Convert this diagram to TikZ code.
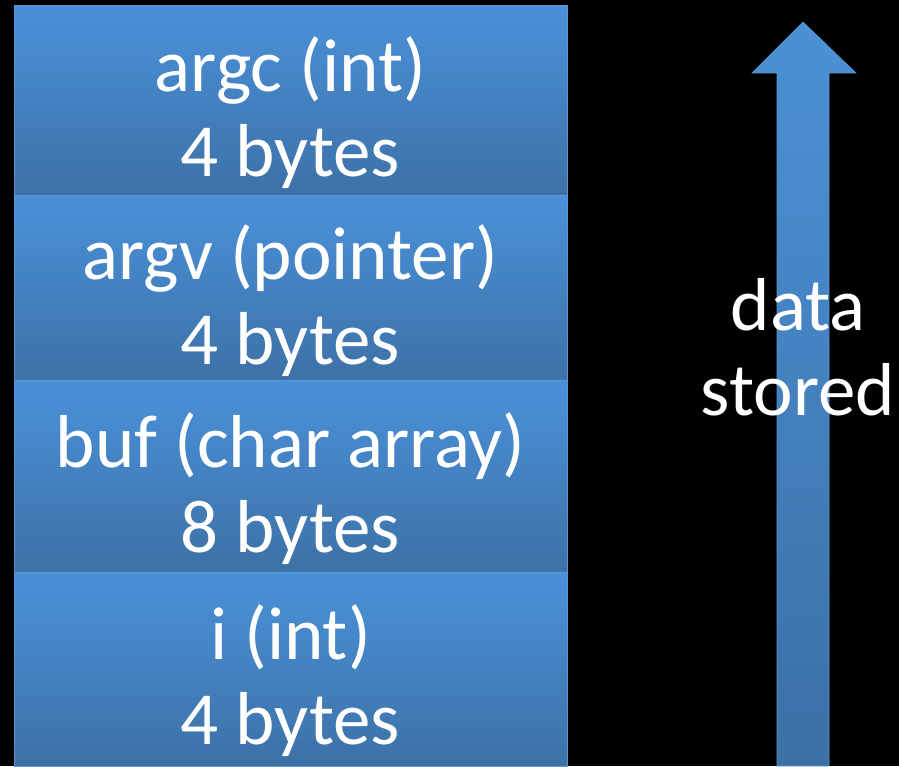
\documentclass[tikz,border=0pt]{standalone}
\usepackage{fontspec}
\setmainfont{Carlito}
\definecolor{celltop}{HTML}{4A91DA}
\definecolor{cellbot}{HTML}{3D71A6}
\definecolor{celledge}{HTML}{5B97D0}
\definecolor{arrowtop}{HTML}{4B91D6}
\definecolor{arrowbot}{HTML}{3C70A6}

\begin{document}
\begin{tikzpicture}[
  x=1pt,
  y=1pt,
  cell/.style={
    rectangle,minimum width=553pt,inner sep=0pt,
    top color=celltop,bottom color=cellbot,draw=celledge,line width=1pt
  },
  label/.style={text=white,font=\fontsize{75}{85}\selectfont,align=center}
]
  \fill[black] (0,0) rectangle (899,766);

  % stack cells, top to bottom
  \node[cell,minimum height=190pt] (argc) at (290.5,665) {};
  \node[cell,minimum height=185pt] (argv) at (290.5,477.5) {};
  \node[cell,minimum height=191pt] (buf) at (290.5,289.5) {};
  \node[cell,minimum height=194pt] (i) at (290.5,97) {};
  \node[label] (argc-t) at ([yshift=-12pt]argc) {argc (int)\\4 bytes};
  \node[label] (argv-t) at ([yshift=-12pt]argv) {argv (pointer)\\4 bytes};
  \node[label] (buf-t) at ([yshift=-12pt]buf) {buf (char array)\\8 bytes};
  \node[label] (i-t) at ([yshift=-12pt]i) {i (int)\\4 bytes};

  % growth arrow
  \shade[top color=arrowtop,bottom color=arrowbot,draw=celledge,line width=0.6pt]
    (777,0) -- (777,693) -- (752,693) -- (803,744) -- (856,693)
    -- (829,693) -- (829,0) -- cycle;
  \node[label] (stored) at (798,419) {data\\stored};
\end{tikzpicture}
\end{document}
